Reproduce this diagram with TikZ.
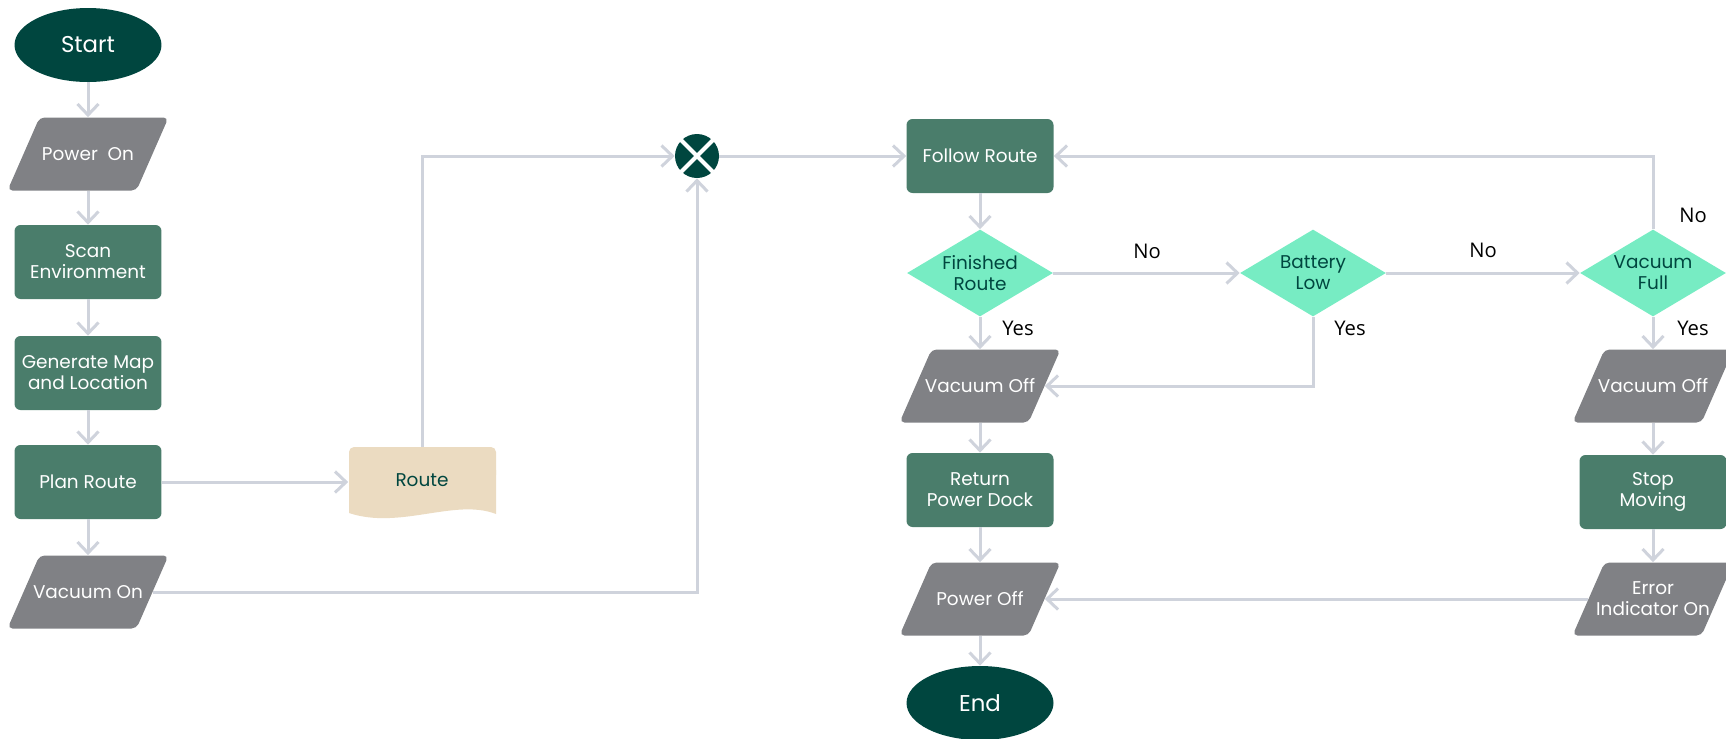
\documentclass[tikz,border=0pt]{standalone}
\usepackage{fontspec}
\setmainfont{Poppins}
\newfontfamily\answerfont{Open Sans}
\usetikzlibrary{shapes.geometric,arrows.meta}
\definecolor{darkteal}{HTML}{00463F}
\definecolor{boxgreen}{HTML}{4A7D6B}
\definecolor{iogray}{HTML}{808185}
\definecolor{mint}{HTML}{77ECC3}
\definecolor{beige}{HTML}{EBDBC1}
\definecolor{flowline}{HTML}{CFD3DC}
\tikzset{
  terminal/.style={ellipse, fill=darkteal, text=white, minimum width=2.94cm, minimum height=1.48cm, inner sep=0pt, font=\fontsize{13}{15}\selectfont},
  process/.style={rectangle, rounded corners=0.12cm, fill=boxgreen, text=white, minimum width=2.94cm, minimum height=1.48cm, inner sep=0pt, align=center, font=\fontsize{10.5}{12}\selectfont},
  io/.style={rectangle, text=white, minimum width=2.58cm, minimum height=1.46cm, inner sep=0pt, align=center, font=\fontsize{10.5}{12}\selectfont},
  iofill/.style={fill=iogray, rounded corners=0.1cm},
  decision/.style={diamond, fill=mint, text=darkteal, minimum width=2.92cm, minimum height=1.74cm, aspect=1.68, inner sep=0pt, align=center, font=\fontsize{10.5}{12}\selectfont},
  doc/.style={rectangle, text=darkteal, minimum width=2.94cm, minimum height=1.32cm, inner sep=0pt, font=\fontsize{10.5}{12}\selectfont},
  merge/.style={circle, fill=darkteal, minimum size=0.88cm, inner sep=0pt},
  answer/.style={text=black, inner sep=0pt, font=\answerfont\fontsize{11.5}{13}\selectfont},
  flow/.style={draw=flowline, line width=0.06cm, -{Straight Barb[length=0.22cm, width=0.42cm]}}
}
\newcommand\iobox[3]{%
  \fill[iofill, shift={(#2)}] (-80.5,36.5) -- (-48.5,-36.5) -- (80.5,-36.5) -- (48.5,36.5) -- cycle;
  \node[io] (#1) at (#2) {#3};}
\begin{document}
\begin{tikzpicture}[x=0.02cm, y=-0.02cm]
\useasboundingbox (0,0) rectangle (1726,738);
\node[terminal] (start) at (88,45) {Start};
\iobox{poweron}{88,154}{Power~~On}
\node[process] (scan) at (88,262) {Scan\\Environment};
\node[process] (genmap) at (88,373) {Generate Map\\and Location};
\node[process] (plan) at (88,482) {Plan Route};
\iobox{vacon}{88,592}{Vacuum On}
\fill[beige, rounded corners=0.1cm] (349,480) rectangle (496,447);
\fill[beige] (349,470) -- (496,470) -- (496,514) .. controls (455,498) and (400,530) .. (349,513) -- cycle;
\node[doc] (route) at (422,480) {Route};
\node[merge] (merge) at (697,156) {};
\draw[white, line width=0.08cm] (merge.north west) -- (merge.south east);
\draw[white, line width=0.08cm] (merge.north east) -- (merge.south west);
\node[process] (follow) at (980,156) {Follow Route};
\node[decision] (finished) at (980,273) {Finished\\Route};
\node[decision] (battery) at (1313,273) {Battery\\Low};
\node[decision] (vacfull) at (1653,273) {Vacuum\\Full};
\iobox{vacoffl}{980,386}{Vacuum Off}
\iobox{vacoffr}{1653,386}{Vacuum Off}
\node[process] (dock) at (980,490) {Return\\Power Dock};
\node[process] (stop) at (1653,492) {Stop\\Moving};
\iobox{poweroff}{980,599}{Power Off}
\iobox{error}{1653,599}{Error\\Indicator On}
\node[terminal] (end) at (980,703) {End};
\node[answer] (nofinished) at (1147,251) {No};
\node[answer] (nobattery) at (1483,250) {No};
\node[answer] (nofull) at (1693,215) {No};
\node[answer] (yesfinished) at (1018,328) {Yes};
\node[answer] (yesbattery) at (1350,328) {Yes};
\node[answer] (yesfull) at (1693,328) {Yes};
\draw[flow] (start) -- (poweron);
\draw[flow] (poweron) -- (scan);
\draw[flow] (scan) -- (genmap);
\draw[flow] (genmap) -- (plan);
\draw[flow] (plan) -- (vacon);
\draw[flow] (plan) -- (plan -| route.west);
\draw[flow] (route.north) |- (merge.west);
\draw[flow] (vacon.east) -| (merge.south);
\draw[flow] (merge) -- (follow);
\draw[flow] (follow) -- (finished);
\draw[flow] (finished) -- (battery);
\draw[flow] (battery) -- (vacfull);
\draw[flow] (finished) -- (vacoffl);
\draw[flow] (battery.south) |- (vacoffl.east);
\draw[flow] (vacfull.north) |- (follow.east);
\draw[flow] (vacfull) -- (vacoffr);
\draw[flow] (vacoffl) -- (dock);
\draw[flow] (dock) -- (poweroff);
\draw[flow] (poweroff) -- (end);
\draw[flow] (vacoffr) -- (stop);
\draw[flow] (stop) -- (error);
\draw[flow] (error.west) -- (poweroff.east);
\end{tikzpicture}
\end{document}
